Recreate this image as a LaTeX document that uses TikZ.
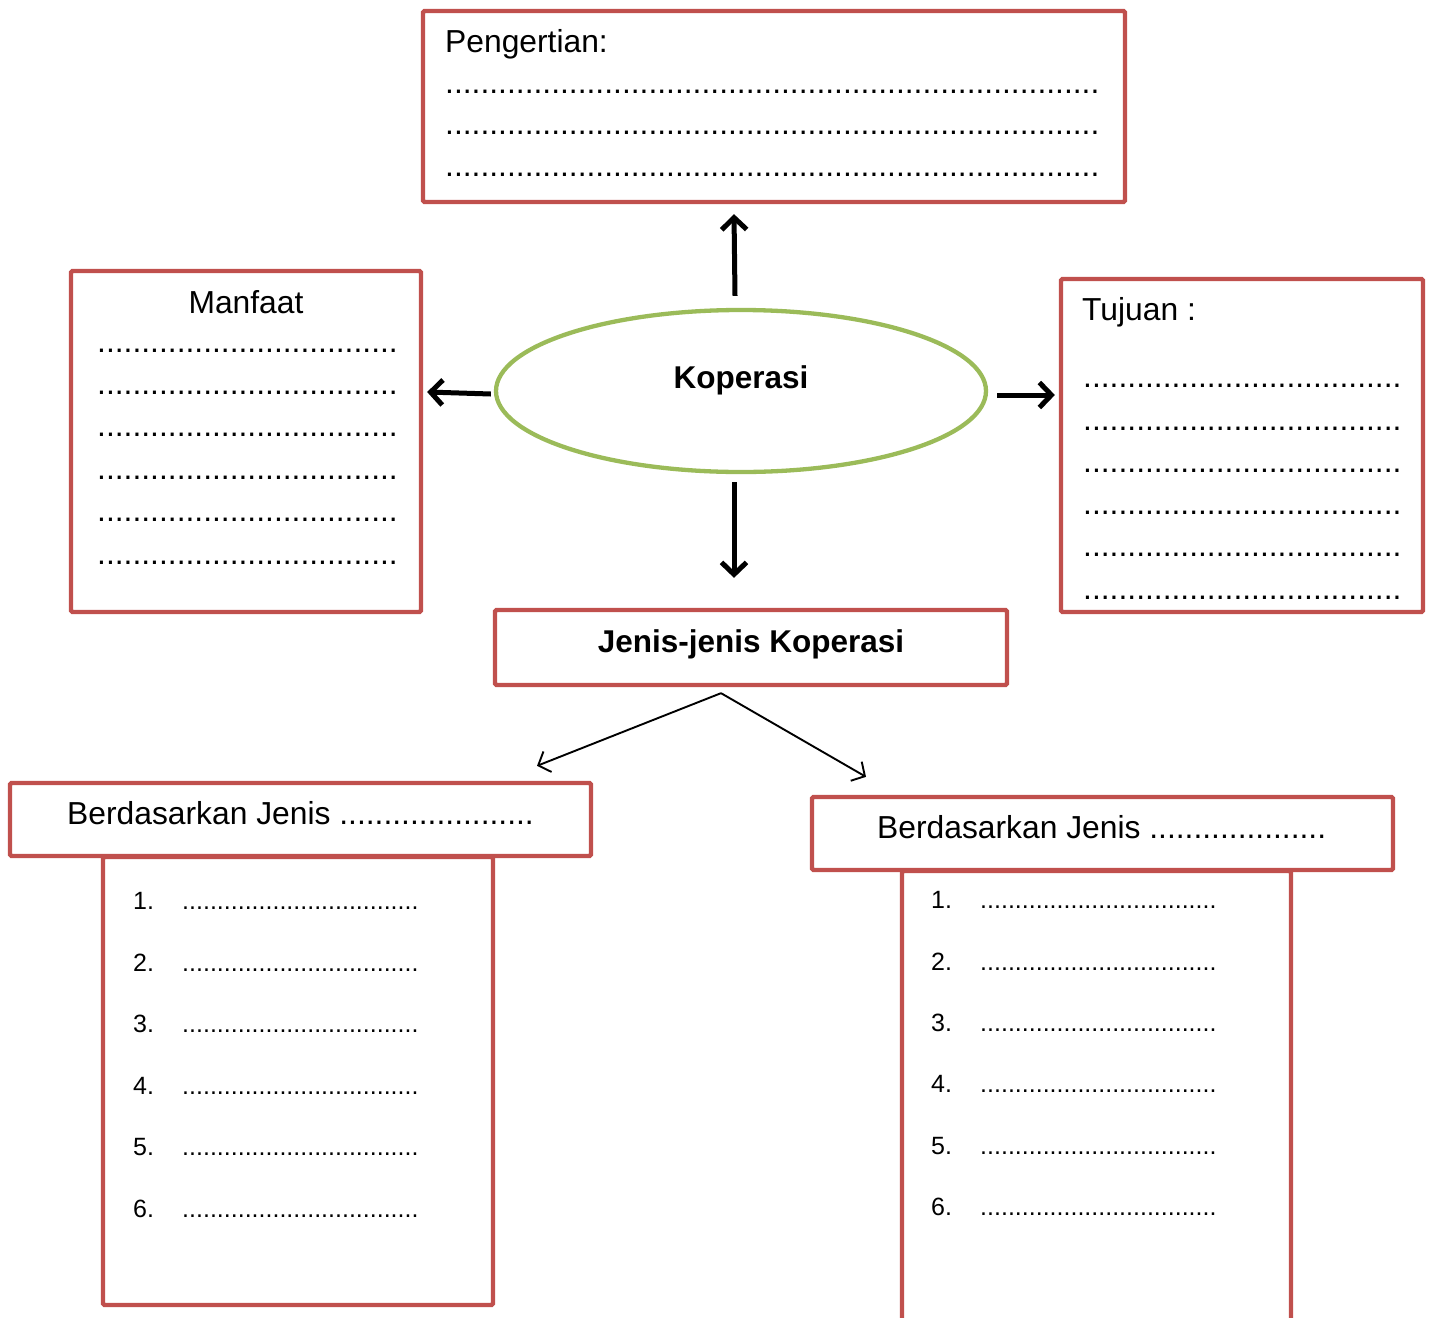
\documentclass[tikz,border=0pt]{standalone}
\usepackage{fontspec}
\setmainfont{Liberation Sans}
\usetikzlibrary{arrows.meta,calc,shapes.geometric}
\definecolor{boxred}{HTML}{C0504D}
\definecolor{ovalgreen}{HTML}{9BBB59}
% a run of n full stops, used for the blank answer lines
\newcommand\dotrun[1]{\foreach\k in {1,...,#1}{.}}
\tikzset{
  box/.style={draw=boxred, line width=4.3pt, rounded corners=1.5pt, inner sep=0pt},
  oval/.style={ellipse, draw=ovalgreen, line width=4.3pt, inner sep=0pt},
  txt/.style={font=\fontsize{31.8}{36}\selectfont, inner sep=0pt, anchor=base west},
  ctxt/.style={font=\fontsize{31.8}{36}\selectfont, inner sep=0pt, anchor=base},
  ltxt/.style={font=\fontsize{25}{30}\selectfont, inner sep=0pt, anchor=base west},
  thk/.style={line width=5pt, -{Straight Barb[length=12pt,width=25pt]}},
  thn/.style={line width=1.9pt, -{Straight Barb[length=10pt,width=22pt]}},
}
\begin{document}
\begin{tikzpicture}[x=1pt,y=-1pt]
\useasboundingbox (0,0) rectangle (1429,1317);

% frames
\node[box, minimum width=702, minimum height=191] (peng) at (774,106.5) {};
\node[box, minimum width=350, minimum height=341] (manf) at (246,441.5) {};
\node[box, minimum width=362, minimum height=333] (tuju) at (1242,445.5) {};
\node[oval, minimum width=490, minimum height=162] (kop) at (741,391) {};
\node[box, minimum width=512, minimum height=75] (jenis) at (751,647.5) {};
\node[box, minimum width=581, minimum height=73] (bl) at (300.5,819.5) {};
\node[box, minimum width=390, minimum height=448] (ll) at (298,1081) {};
\node[box, minimum width=581, minimum height=73] (br) at (1102.5,833.5) {};
\node[box, minimum width=389, minimum height=469] (lr) at (1096.5,1105.5) {};

% Pengertian
\node[txt] (pengT) at (445,52) {Pengertian:};
\node[txt] (pengA) at (445,93) {\dotrun{74}};
\node[txt] (pengB) at (445,134) {\dotrun{74}};
\node[txt] (pengC) at (445,176) {\dotrun{74}};

% Manfaat
\node[ctxt] (manfT) at (246,313) {Manfaat};
\foreach \y [count=\i] in {352,394,436,479,521,564}
  \node[txt] (manf\i) at (97,\y) {\dotrun{34}};

% Tujuan
\node[txt] (tujuT) at (1082,320) {Tujuan :};
\foreach \y [count=\i] in {387,430,472,514,556,599}
  \node[txt] (tuju\i) at (1083,\y) {\dotrun{36}};

% centre and category titles
\node[ctxt, font=\fontsize{31.5}{36}\selectfont\bfseries] (kopT) at (741,388) {Koperasi};
\node[ctxt, font=\fontsize{31.5}{36}\selectfont\bfseries] (jenisT) at (751,652) {Jenis-jenis Koperasi};
\node[txt] (blT) at (67,824) {Berdasarkan Jenis \dotrun{22}};
\node[txt] (brT) at (877,838) {Berdasarkan Jenis \dotrun{20}};

% numbered lists
\foreach \y [count=\i] in {909,971,1032,1094,1155,1217} {
  \node[ltxt] (lln\i) at (133,\y) {\i.};
  \node[ltxt] (lld\i) at (182,\y) {\dotrun{34}};
}
\foreach \y [count=\i] in {908,970,1031,1092,1154,1215} {
  \node[ltxt] (lrn\i) at (931,\y) {\i.};
  \node[ltxt] (lrd\i) at (980,\y) {\dotrun{34}};
}

% connectors
\draw[thk] ($(kop.north)+(-6,-12)$) -- ($(peng.south)+(-40,10)$);
\draw[thk] ($(kop.west)+(-3,3)$) -- ($(manf.east)+(4,-49.5)$);
\draw[thk] ($(kop.east)+(9,4)$) -- ($(tuju.west)+(-4,-50.5)$);
\draw[thk] ($(kop.south)+(-7,8)$) -- ($(jenis.north)+(-17,-30)$);
\draw[thn] ($(jenis.south)+(-30,6)$) -- ($(bl.north)+(236.5,-15)$);
\draw[thn] ($(jenis.south)+(-30,6)$) -- ($(br.north)+(-236.5,-18)$);
\end{tikzpicture}
\end{document}
